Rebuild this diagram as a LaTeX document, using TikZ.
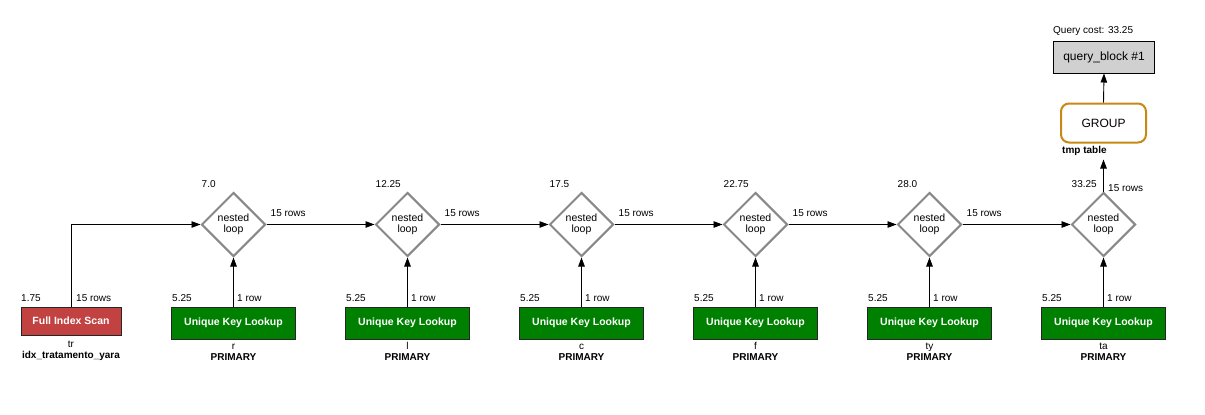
\documentclass[tikz,border=0pt]{standalone}
\usepackage{fontspec}
\setmainfont{Liberation Sans}
\usetikzlibrary{arrows.meta,shapes.geometric}
\definecolor{fisred}{RGB}{194,65,65}
\definecolor{uklgreen}{RGB}{0,128,0}
\definecolor{grpor}{RGB}{200,136,20}
\definecolor{qbgray}{RGB}{208,208,208}
\definecolor{nlgray}{RGB}{136,136,136}
\tikzset{
  fs/.style={font=\fontsize{10}{12}\selectfont},
  fsb/.style={font=\fontsize{10}{12}\selectfont\bfseries},
  boxfont/.style={font=\fontsize{10.5}{12}\selectfont\bfseries},
  lbl/.style={fs,inner sep=0pt,anchor=west},
  arr/.style={draw=black,line width=0.9pt,-{Triangle[length=9pt,width=6.5pt]}},
  fisbox/.style={rectangle,draw=black!85,line width=1pt,fill=fisred,text=white,boxfont,minimum width=100pt,minimum height=28pt,inner sep=0pt},
  uklbox/.style={rectangle,draw=black!85,line width=1pt,fill=uklgreen,text=white,boxfont,minimum width=124pt,minimum height=32pt,inner sep=0pt},
  nloop/.style={diamond,draw=nlgray,line width=2pt,fill=white,minimum width=64pt,minimum height=64pt,inner sep=0pt,align=center,font=\fontsize{10.5}{11}\selectfont},
  grpbox/.style={rectangle,rounded corners=8pt,draw=grpor,line width=2pt,fill=white,minimum width=85pt,minimum height=39pt,inner sep=0pt,font=\fontsize{12}{14}\selectfont},
  qbbox/.style={rectangle,draw=black,line width=1pt,fill=qbgray,minimum width=101pt,minimum height=32pt,inner sep=0pt,font=\fontsize{12}{14}\selectfont},
}
\begin{document}
\begin{tikzpicture}[x=1pt,y=-1pt]
\useasboundingbox[fill=white] (0,0) rectangle (1205,415);

% full index scan
\node[fisbox] (fis) at (71,321) {Full Index Scan};
\node[lbl] (fiscost) at (21,298) {1.75};
\node[lbl] (fisrows) at (76,298) {15 rows};
\node[fs,inner sep=0pt,anchor=base] (fisname) at (71,347) {tr};
\node[fsb,inner sep=0pt,anchor=base] (fiskey) at (71,358.5) {idx\_tratamento\_yara};

% nested loops and lookups
\foreach \i/\cx/\cost/\nm in {1/233.5/7.0/r, 2/407.5/12.25/l, 3/581.5/17.5/c, 4/755.5/22.75/f, 5/929.5/28.0/ty, 6/1103.5/33.25/ta}{
  \node[nloop] (d\i) at (\cx,224.5) {nested\\loop};
  \node[lbl] (dc\i) at (\cx-32,184) {\cost};
  \node[uklbox] (u\i) at (\cx,323) {Unique Key Lookup};
  \node[lbl] (uc\i) at (\cx-61.5,298) {5.25};
  \node[lbl] (ur\i) at (\cx+3.5,298) {1 row};
  \node[fs,inner sep=0pt,anchor=base] (un\i) at (\cx,349) {\nm};
  \node[fsb,inner sep=0pt,anchor=base] (uk\i) at (\cx,360.5) {PRIMARY};
  \draw[arr] (u\i.north) -- (d\i.south);
}
\foreach \i/\cx in {1/233.5,2/407.5,3/581.5,4/755.5,5/929.5}{
  \node[lbl] (dr\i) at (\cx+37,213.5) {15 rows};
}
\draw[arr] (fis.north) |- (d1.west);
\draw[arr] (d1.east) -- (d2.west);
\draw[arr] (d2.east) -- (d3.west);
\draw[arr] (d3.east) -- (d4.west);
\draw[arr] (d4.east) -- (d5.west);
\draw[arr] (d5.east) -- (d6.west);

% group and query block
\node[grpbox] (grp) at (1103.5,123) {GROUP};
\node[fsb,inner sep=0pt,anchor=west] (tmp) at (1062,150.5) {tmp table};
\coordinate (gin) at (1103.5,159.5);
\node[lbl] (d6r) at (1108,188) {15 rows};
\draw[arr] (d6.north) -- (gin);

\node[qbbox] (qb) at (1104,57) {query\_block \#1};
\node[lbl] (qcost) at (1053,31.5) {Query cost: 33.25};
\draw[arr] (grp.north) -- (qb.south);
\end{tikzpicture}
\end{document}
